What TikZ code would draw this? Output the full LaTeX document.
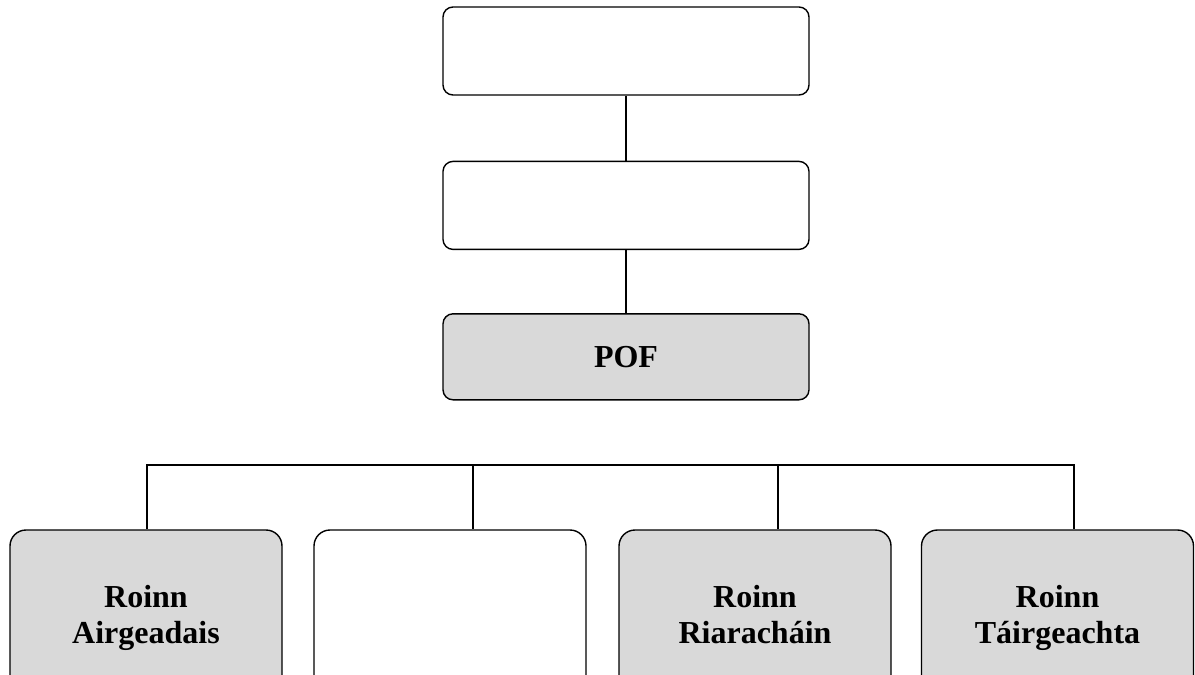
\documentclass[tikz,border=0pt]{standalone}
\usepackage{fontspec}
\setmainfont{Liberation Serif}
\usepackage{tikz}
\usetikzlibrary{positioning}
\definecolor{boxgray}{RGB}{217,217,217}

\begin{document}
\begin{tikzpicture}[x=0.5pt, y=-0.5pt, line width=0.7pt,
        headbox/.style={draw, rounded corners=5pt, minimum width=183pt,
          minimum height=44pt, font=\bfseries\fontsize{16pt}{18pt}\selectfont},
        deptbox/.style={draw, rounded corners=8pt, minimum width=136pt,
          minimum height=88pt, align=center, text depth=3.5pt,
          font=\bfseries\fontsize{16pt}{18pt}\selectfont}]
    \useasboundingbox (0,0) rectangle (1195,675);
    \clip (0,0) rectangle (1195,675);
    % top of the chart
    \node[headbox] (top) at (626,51) {};
    \node[headbox, below=32.5pt of top] (mid) {};
    \node[headbox, fill=boxgray, minimum height=43pt, below=31.5pt of mid] (pof) {POF};
    \draw (top) -- (mid);
    \draw (mid) -- (pof);
    % departments
    \node[deptbox, fill=boxgray] (fin) at (146,618) {Roinn\\Airgeadais};
    \node[deptbox] (blank) at (450,618) {};
    \node[deptbox, fill=boxgray] (admin) at (755,618) {Roinn\\Riaracháin};
    \node[deptbox, fill=boxgray] (prod) at (1057.5,618) {Roinn\\Táirgeachta};
    % bus line
    \coordinate (j1) at (147,465);
    \coordinate (j2) at (473,465);
    \coordinate (j3) at (778,465);
    \coordinate (j4) at (1074,465);
    \draw (j1 |- fin.north) -- (j1) -- (j4) -- (j4 |- prod.north);
    \draw (j2) -- (j2 |- blank.north);
    \draw (j3) -- (j3 |- admin.north);
\end{tikzpicture}
\end{document}
